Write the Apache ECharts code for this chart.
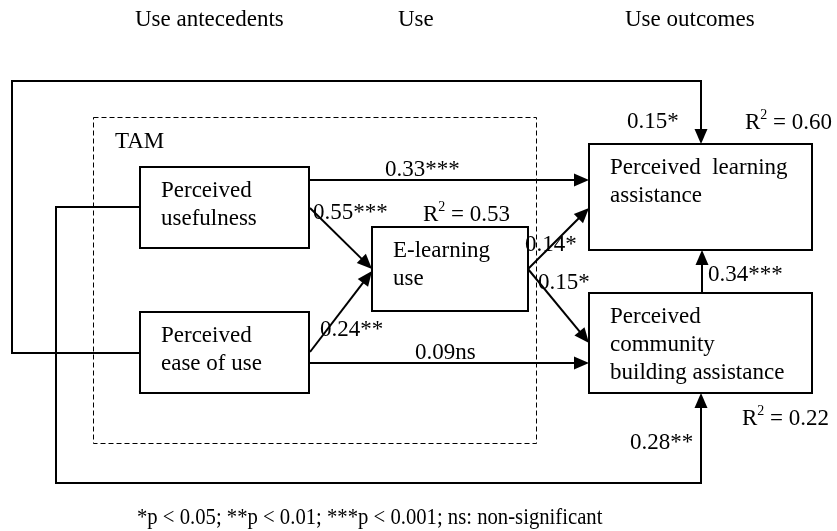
<!DOCTYPE html>
<html><head><meta charset="utf-8">
<script src="https://cdn.jsdelivr.net/npm/echarts@6/dist/echarts.min.js"></script>
<style>html,body{margin:0;padding:0;background:#fff}#c{width:837px;height:531px}</style>
</head><body><div id="c"></div>
<script>
// ---- data ----
const stageLabels = ['Use antecedents', 'Use', 'Use outcomes'];
const groupLabel = 'TAM';
const constructLines = [
  ['Perceived', 'usefulness'],
  ['Perceived', 'ease of use'],
  ['E-learning', 'use'],
  ['Perceived  learning', 'assistance'],
  ['Perceived', 'community', 'building assistance']
];
const pathFrom = [0, 0, 1, 1, 2, 2, 4, 1, 0];
const pathTo   = [3, 2, 2, 4, 3, 4, 3, 3, 4];
const pathCoefficients = ['0.33***', '0.55***', '0.24**', '0.09ns', '0.14*', '0.15*', '0.34***', '0.15*', '0.28**'];
const rSquaredTargets = [2, 3, 4];
const rSquaredValues = ['0.53', '0.60', '0.22'];
const footnote = '*p < 0.05; **p < 0.01; ***p < 0.001; ns: non-significant';

// ---- layout (axis units of a hidden 837 x 531 cartesian grid) ----
const layout = {
  boxes: [[140,167,309,248],[140,312,309,393],[372,227,528,311],[589,144,812,250],[589,293,812,393]],
  tam: [93.5,117.5,536.5,443.5],
  paths: [
    [[309,180],[589,180]],
    [[310,208],[372,269]],
    [[310,352],[372,271]],
    [[309,363],[589,363]],
    [[528,269],[589,208]],
    [[528,269],[589,343]],
    [[702,293],[702,250]],
    [[140,353],[12,353],[12,81],[701,81],[701,144]],
    [[140,207],[56,207],[56,483],[701,483],[701,393]]
  ],
  pathLabels: [[385,170],[313,213],[320,330],[415,353],[525,245],[538,283],[708,275],[627,122],[630,443]],
  r2Labels: [[423,215],[745,123],[742,419]],
  stagePos: [[135,20],[398,20],[625,20]],
  groupPos: [115,142],
  footPos: [137,518],
  textIndent: 21, firstLine: 24, lineGap: 28
};

const FONT = '"Liberation Serif", "Times New Roman", serif';
const FS = 23;

function textEl(api, p, text, extra, el) {
  const c = api.coord(p);
  return Object.assign({
    type: 'text', x: c[0], y: c[1],
    style: Object.assign({text: text, fontFamily: FONT, fontSize: FS, fill: '#000', align: 'left', verticalAlign: 'middle'}, extra || {})
  }, el || {});
}

// label list built from the data arrays
const labelItems = [];
stageLabels.forEach((s, i) => labelItems.push({text: s, pos: layout.stagePos[i]}));
labelItems.push({text: groupLabel, pos: layout.groupPos});
constructLines.forEach((lines, i) => {
  const b = layout.boxes[i];
  lines.forEach((ln, k) => labelItems.push({text: ln, pos: [b[0] + layout.textIndent, b[1] + layout.firstLine + k * layout.lineGap]}));
});
pathCoefficients.forEach((c, i) => labelItems.push({text: c, pos: layout.pathLabels[i]}));
rSquaredValues.forEach((v, i) => labelItems.push({text: 'R{sup|2} = ' + v, pos: layout.r2Labels[i], kind: 'r2'}));
labelItems.push({text: footnote, pos: layout.footPos, kind: 'foot'});

const chart = echarts.init(document.getElementById('c'));
chart.setOption({
  animation: false,
  backgroundColor: '#fff',
  grid: {left: 0, right: 0, top: 0, bottom: 0},
  xAxis: {type: 'value', min: 0, max: 837, show: false},
  yAxis: {type: 'value', min: 0, max: 531, inverse: true, show: false},
  series: [
    {
      type: 'custom', name: 'TAM', coordinateSystem: 'cartesian2d', silent: true,
      data: [[layout.tam[0], layout.tam[1]]],
      renderItem: function (params, api) {
        const t = layout.tam;
        const a = api.coord([t[0], t[1]]), b = api.coord([t[2], t[3]]);
        return {type: 'rect', shape: {x: a[0], y: a[1], width: b[0] - a[0], height: b[1] - a[1]},
          style: {fill: 'none', stroke: '#000', lineWidth: 1, lineDash: [5, 3]}};
      }
    },
    {
      type: 'custom', name: 'paths', coordinateSystem: 'cartesian2d', silent: true,
      data: pathFrom.map((f, i) => layout.paths[i][0]),
      renderItem: function (params, api) {
        const pts = layout.paths[params.dataIndex].map(p => api.coord(p));
        const n = pts.length;
        const end = pts[n - 1], prev = pts[n - 2];
        let dx = end[0] - prev[0], dy = end[1] - prev[1];
        const len = Math.sqrt(dx * dx + dy * dy); dx /= len; dy /= len;
        const L = 15, W = 13;
        const base = [end[0] - dx * L, end[1] - dy * L];
        const nx = -dy, ny = dx;
        const linePts = pts.slice(0, n - 1).concat([[end[0] - dx * (L - 2), end[1] - dy * (L - 2)]]);
        return {type: 'group', children: [
          {type: 'polyline', shape: {points: linePts}, style: {fill: 'none', stroke: '#000', lineWidth: 2}},
          {type: 'polygon', shape: {points: [end, [base[0] + nx * W / 2, base[1] + ny * W / 2], [base[0] - nx * W / 2, base[1] - ny * W / 2]]},
            style: {fill: '#000', stroke: 'none'}}
        ]};
      }
    },
    {
      type: 'custom', name: 'constructs', coordinateSystem: 'cartesian2d', silent: true,
      data: constructLines.map((c, i) => [layout.boxes[i][0], layout.boxes[i][1]]),
      renderItem: function (params, api) {
        const b = layout.boxes[params.dataIndex];
        const a = api.coord([b[0], b[1]]), c = api.coord([b[2], b[3]]);
        return {type: 'rect', shape: {x: a[0], y: a[1], width: c[0] - a[0], height: c[1] - a[1]},
          style: {fill: '#fff', stroke: '#000', lineWidth: 2}};
      }
    },
    {
      type: 'custom', name: 'labels', coordinateSystem: 'cartesian2d', silent: true,
      data: labelItems.map(it => it.pos),
      renderItem: function (params, api) {
        const it = labelItems[params.dataIndex];
        if (it.kind === 'r2') {
          return textEl(api, it.pos, it.text,
            {rich: {sup: {fontFamily: FONT, fontSize: 14, verticalAlign: 'top', lineHeight: 12}}, lineHeight: 30});
        }
        if (it.kind === 'foot') {
          return textEl(api, it.pos, it.text, {fontSize: 24}, {scaleX: 0.862, originX: 0, originY: 0});
        }
        return textEl(api, it.pos, it.text);
      }
    }
  ]
});
</script>
</body></html>
